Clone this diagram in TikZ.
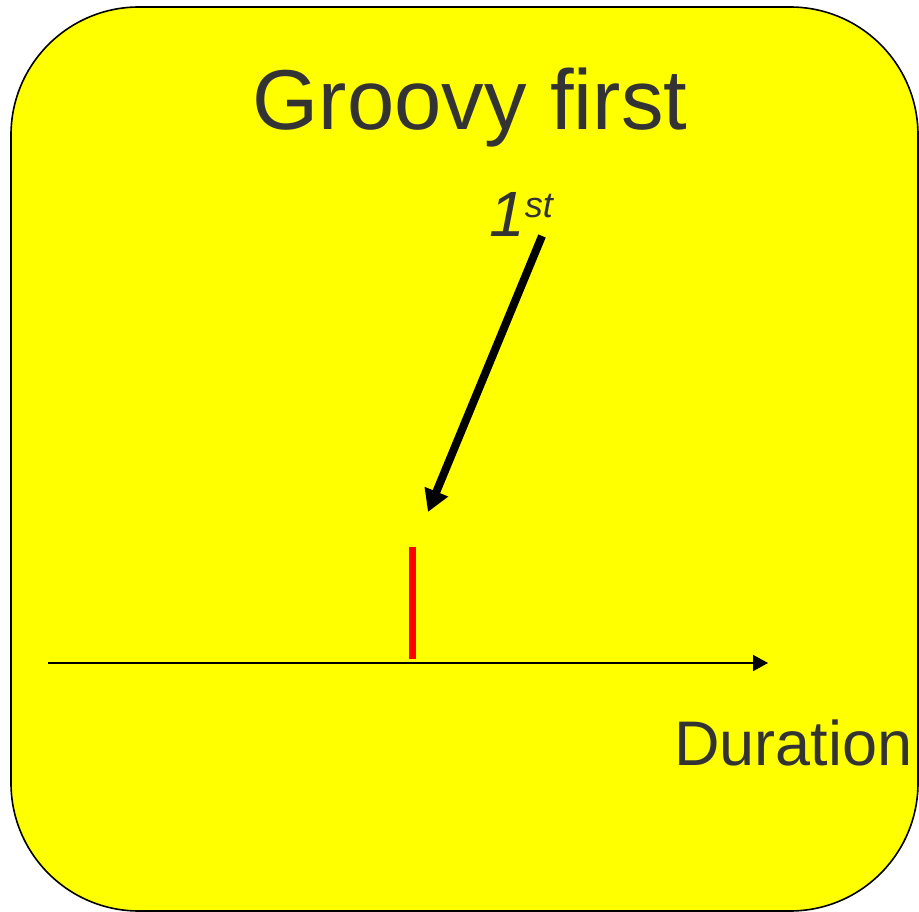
\documentclass[tikz,border=0pt]{standalone}
\usepackage{fontspec}
\setmainfont{Liberation Sans}
\usetikzlibrary{arrows.meta}
\definecolor{txtgray}{HTML}{333333}
\definecolor{panelyellow}{RGB}{255,255,0}
\definecolor{markred}{RGB}{255,0,0}
\tikzset{
  panel/.style={draw=black, line width=1.6pt, fill=panelyellow, rounded corners=128pt},
  lbl/.style={inner sep=0pt, text=txtgray},
  pointer/.style={line width=8pt, -{Triangle[length=22pt,width=24pt]}},
  axisline/.style={line width=1.8pt, -{Triangle[length=15pt,width=16pt]}},
  marker/.style={line width=7pt, markred}
}
\begin{document}
\begin{tikzpicture}[x=1pt,y=-1pt]
\useasboundingbox (0,0) rectangle (919,912);
\draw[panel] (11,7) rectangle (918,911);
\node[lbl, anchor=base, font=\fontsize{85}{85}\selectfont] (title) at (470,130) {Groovy first};
\node[lbl, anchor=base west] (first) at (489,237) {\fontsize{64}{64}\selectfont\itshape 1\raisebox{19pt}{\fontsize{36}{36}\selectfont\itshape st}};
\node[lbl, anchor=base west, font=\fontsize{63}{63}\selectfont] (dur) at (674,765) {Duration};
\coordinate (arrS) at (542,236);
\coordinate (arrE) at (428,512);
\draw[pointer] (arrS) -- (arrE);
\coordinate (redT) at (412,547);
\coordinate (redB) at (412,659);
\draw[marker] (redT) -- (redB);
\coordinate (axS) at (48,663);
\coordinate (axE) at (768,663);
\draw[axisline] (axS) -- (axE);
\end{tikzpicture}
\end{document}
